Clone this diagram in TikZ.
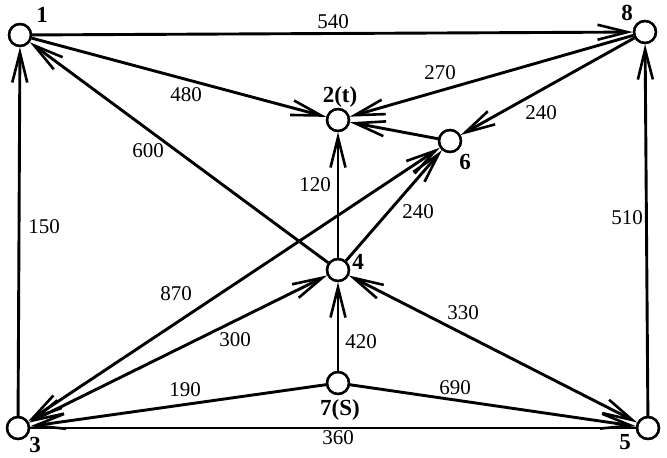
\documentclass[tikz,border=0pt]{standalone}
\usepackage{fontspec}
\setmainfont{Liberation Serif}
\usetikzlibrary{arrows.meta}
\begin{document}
\begin{tikzpicture}[x=1pt,y=-1pt,
  vtx/.style={circle,draw,line width=2.3pt,minimum size=22pt,inner sep=0pt,fill=white},
  vlab/.style={font=\fontsize{23}{23}\selectfont\bfseries,inner sep=0pt},
  elab/.style={font=\fontsize{21}{21}\selectfont,inner sep=0pt},
  edg/.style={line width=2.9pt},
  tip/.tip={Straight Barb[length=30pt,width=15pt,line width=2.6pt]},
  arr/.style={edg,-tip},
  barr/.style={edg,tip-tip}]
\useasboundingbox (0,0) rectangle (667,458);
\node[vtx] (n1) at (20,35) {};
\node[vtx] (n8) at (645,32) {};
\node[vtx] (n2) at (338,120) {};
\node[vtx] (n6) at (450,141) {};
\node[vtx] (n4) at (338,270) {};
\node[vtx] (n7) at (338,383) {};
\node[vtx] (n3) at (18,428) {};
\node[vtx] (n5) at (648,428) {};
% edges
\draw[arr] (n1) -- (n8);
\draw[arr] (n1) -- (n2);
\draw[arr] (n4) -- (n1);
\draw[arr] (n3) -- (n1);
\draw[arr] (n8) -- (n2);
\draw[arr] (n8) -- (n6);
\draw[arr] (n6) -- (n2);
\draw[arr] (n4) -- (n2);
\draw[arr] (n4) -- (n6);
\draw[barr] (n3) -- (n6);
\draw[barr] (n3) -- (n4);
\draw[barr] (n4) -- (n5);
\draw[arr] (n7) -- (n4);
\draw[arr] (n7) -- (n3);
\draw[arr] (n7) -- (n5);
\draw[edg] (n3) -- (n5);
\draw[arr] (n5) -- (n8);
% redraw vertices on top
\foreach \v in {n1,n8,n2,n6,n4,n7,n3,n5} {\draw[line width=2.3pt] (\v) circle (11pt);}
% vertex labels
\node[vlab] (t1) at (42,15) {1};
\node[vlab] (t8) at (627,13) {8};
\node[vlab] (t2) at (340,97) {2(t)};
\node[vlab] (t6) at (465,162) {6};
\node[vlab] (t4) at (358,262) {4};
\node[vlab] (t7) at (340,410) {7(S)};
\node[vlab] (t3) at (35,445) {3};
\node[vlab] (t5) at (625,442) {5};
% edge labels
\node[elab] (e540) at (333,22) {540};
\node[elab] (e480) at (186,95) {480};
\node[elab] (e270) at (440,73) {270};
\node[elab] (e240a) at (541,113) {240};
\node[elab] (e600) at (148,151) {600};
\node[elab] (e120) at (315,185) {120};
\node[elab] (e150) at (44,227) {150};
\node[elab] (e240b) at (418,212) {240};
\node[elab] (e510) at (627,218) {510};
\node[elab] (e870) at (176,294) {870};
\node[elab] (e300) at (235,340) {300};
\node[elab] (e420) at (361,342) {420};
\node[elab] (e330) at (463,313) {330};
\node[elab] (e190) at (185,390) {190};
\node[elab] (e690) at (455,388) {690};
\node[elab] (e360) at (338,438) {360};
\end{tikzpicture}
\end{document}
